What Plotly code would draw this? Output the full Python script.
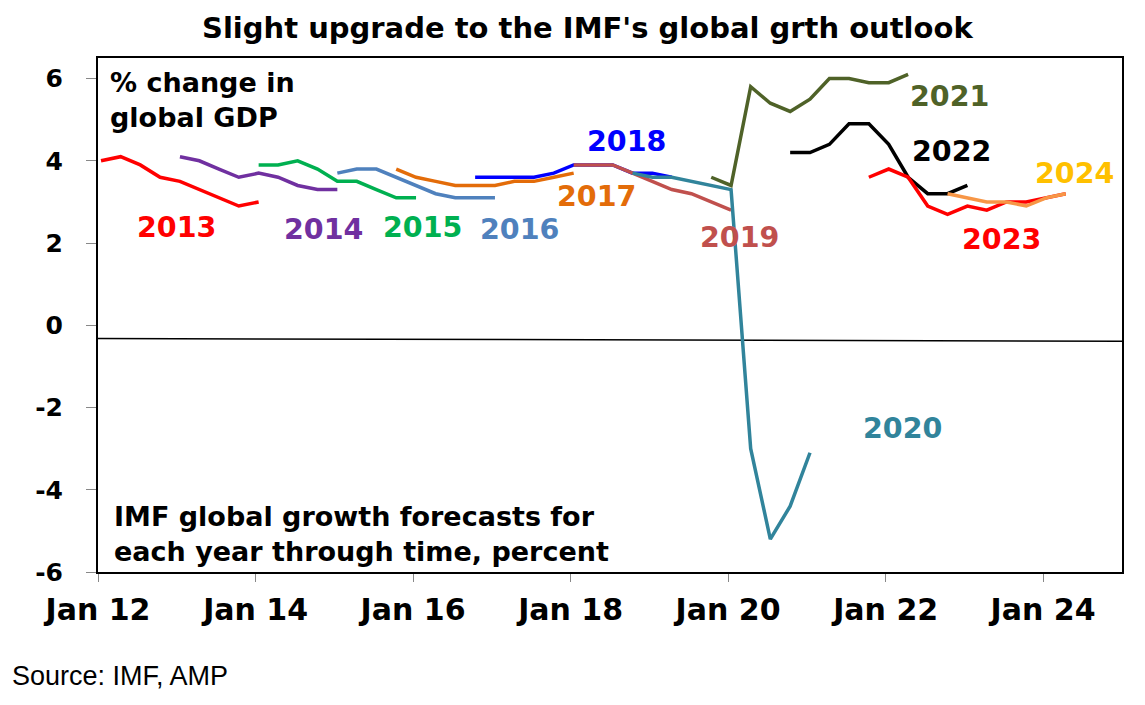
import pandas as pd
import plotly.graph_objects as go

# IMF forecasts for each year, one value per quarterly WEO round
YEARS = ["2013", "2014", "2015", "2016", "2017", "2018",
         "2019", "2020", "2021", "2022", "2023", "2024"]
FIRST_ROUND = ["2012-01", "2013-01", "2014-01", "2015-01", "2015-10", "2016-10",
               "2018-01", "2018-10", "2019-10", "2020-10", "2021-10", "2022-10"]

F2013 = [4.0, 4.1, 3.9, 3.6, 3.5, 3.3, 3.1, 2.9, 3.0]
F2014 = [4.1, 4.0, 3.8, 3.6, 3.7, 3.6, 3.4, 3.3, 3.3]
F2015 = [3.9, 3.9, 4.0, 3.8, 3.5, 3.5, 3.3, 3.1, 3.1]
F2016 = [3.7, 3.8, 3.8, 3.6, 3.4, 3.2, 3.1, 3.1, 3.1]
F2017 = [3.8, 3.6, 3.5, 3.4, 3.4, 3.4, 3.5, 3.5, 3.6, 3.7]
F2018 = [3.6, 3.6, 3.6, 3.6, 3.7, 3.9, 3.9, 3.9, 3.7, 3.7, 3.6]
F2019 = [3.9, 3.9, 3.9, 3.7, 3.5, 3.3, 3.2, 3.0, 2.8]
F2020 = [3.7, 3.6, 3.6, 3.5, 3.4, 3.3, -3.0, -5.2, -4.4, -3.1]
F2021 = [3.6, 3.4, 5.8, 5.4, 5.2, 5.5, 6.0, 6.0, 5.9, 5.9, 6.1]
F2022 = [4.2, 4.2, 4.4, 4.9, 4.9, 4.4, 3.6, 3.2, 3.2, 3.4]
F2023 = [3.6, 3.8, 3.6, 2.9, 2.7, 2.9, 2.8, 3.0, 3.0, 3.1, 3.2]
F2024 = [3.2, 3.1, 3.0, 3.0, 2.9, 3.1, 3.2]
FORECASTS = [F2013, F2014, F2015, F2016, F2017, F2018,
             F2019, F2020, F2021, F2022, F2023, F2024]

# the (slightly tilted) reference line drawn under zero
BASE_X = ["2012-01-01", "2025-01-01"]
BASE_Y = [-0.32, -0.39]

X_TICKS = ["2012-01-01", "2014-01-01", "2016-01-01", "2018-01-01",
           "2020-01-01", "2022-01-01", "2024-01-01"]
X_LABELS = ["Jan 12", "Jan 14", "Jan 16", "Jan 18", "Jan 20", "Jan 22", "Jan 24"]
Y_TICKS = [-6, -4, -2, 0, 2, 4, 6]
Y_LABELS = ["-6", "-4", "-2", "0", "2", "4", "6"]

LINE_COLORS = ["#FF0000", "#7030A0", "#00B050", "#4F81BD", "#E36C09", "#0000FF",
               "#C0504D", "#31849B", "#4F6228", "#000000", "#FF0000", "#F79646"]
LABEL_COLORS = LINE_COLORS[:-1] + ["#FFC000"]
# where each year's label sits (date, value)
LABEL_POS = [("2013-01-01", 2.38), ("2014-11-12", 2.33), ("2016-02-15", 2.38),
             ("2017-05-10", 2.33), ("2018-05-01", 3.13), ("2018-09-18", 4.47),
             ("2020-02-25", 2.14), ("2022-03-20", -2.52), ("2022-10-25", 5.56),
             ("2022-11-01", 4.22), ("2023-06-22", 2.09), ("2024-05-28", 3.69)]

BOLD = dict(family="DejaVu Sans", weight="bold", color="black")

fig = go.Figure()

fig.add_trace(go.Scatter(x=BASE_X, y=BASE_Y, mode="lines",
                         line=dict(color="black", width=1.5), hoverinfo="skip"))

for year, start, vals, col in zip(YEARS, FIRST_ROUND, FORECASTS, LINE_COLORS):
    dates = pd.date_range(start + "-01", periods=len(vals), freq="3MS") + pd.Timedelta(days=14)
    fig.add_trace(go.Scatter(x=dates, y=vals, mode="lines", name=year,
                             line=dict(color=col, width=3.5)))

annotations = []
for year, (lx, ly), col in zip(YEARS, LABEL_POS, LABEL_COLORS):
    annotations.append(dict(x=lx, y=ly, xref="x", yref="y", text=year, showarrow=False,
                            font=dict(BOLD, size=28.5, color=col)))

annotations += [
    dict(x=0.4785, y=1.058, xref="paper", yref="paper", xanchor="center", yanchor="middle",
         text="Slight upgrade to the IMF's global grth outlook", showarrow=False,
         font=dict(BOLD, size=29)),
    dict(x=0.0098, y=0.918, xref="paper", yref="paper", xanchor="left", yanchor="middle",
         align="left", text="% change in<br>global GDP", showarrow=False,
         font=dict(BOLD, size=27)),
    dict(x=0.0137, y=0.074, xref="paper", yref="paper", xanchor="left", yanchor="middle",
         align="left", text="IMF global growth forecasts for<br>each year through time, percent",
         showarrow=False, font=dict(BOLD, size=27)),
    dict(x=-0.086, y=-0.2023, xref="paper", yref="paper", xanchor="left", yanchor="middle",
         text="Source: IMF, AMP", showarrow=False,
         font=dict(family="Liberation Sans", size=27, color="black")),
]

# the page adds an 8px body margin, so the figure is 8px smaller and margins shifted
fig.update_layout(
    width=1137, height=697,
    margin=dict(l=90, r=23, t=50, b=133),
    paper_bgcolor="white", plot_bgcolor="white",
    showlegend=False,
    annotations=annotations,
)
fig.update_xaxes(
    type="date", range=["2012-01-01", "2025-01-01"],
    tickvals=X_TICKS, ticktext=X_LABELS,
    showgrid=False, zeroline=False,
    showline=True, mirror=True, linecolor="black", linewidth=2,
    ticks="outside", ticklen=8, tickcolor="#888888", tickwidth=1,
    ticklabelstandoff=2,
    tickfont=dict(BOLD, size=30),
)
fig.update_yaxes(
    range=[-6, 6.5], tickvals=Y_TICKS, ticktext=Y_LABELS,
    showgrid=False, zeroline=False,
    showline=True, mirror=True, linecolor="black", linewidth=2,
    ticks="outside", ticklen=10, tickcolor="#888888", tickwidth=1,
    ticklabelstandoff=18,
    tickfont=dict(BOLD, size=25),
)

fig.write_html("out.html")
